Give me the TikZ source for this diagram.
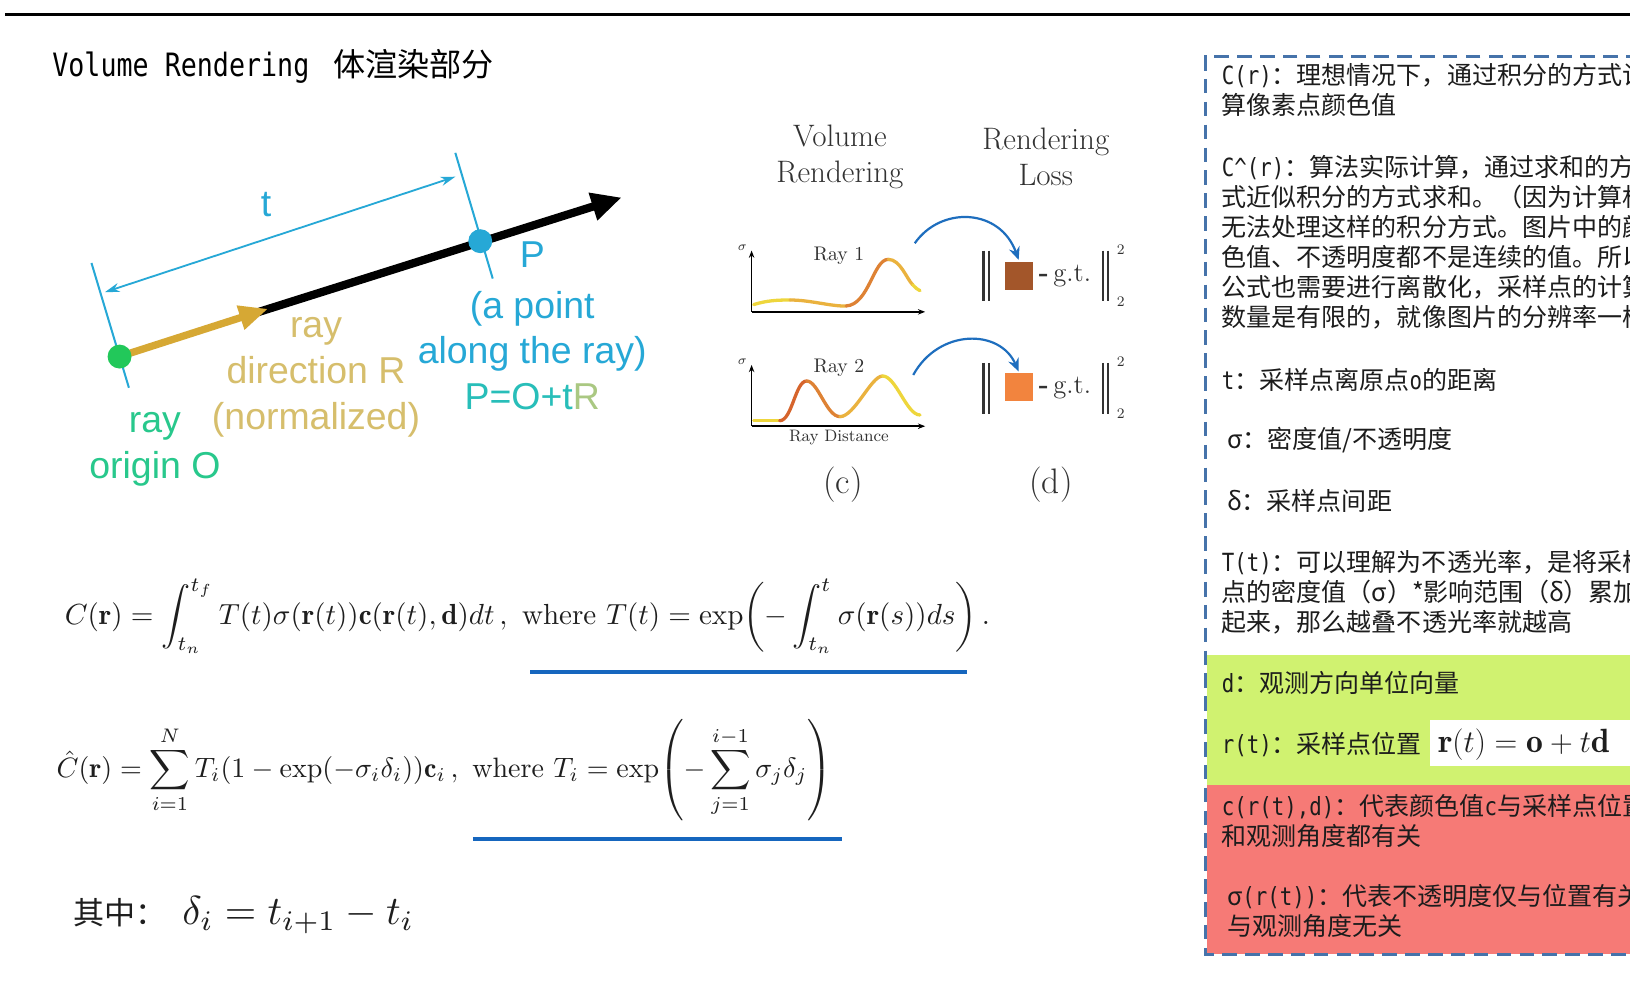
\documentclass[tikz,border=0pt]{standalone}
\usepackage{amsmath}
\usepackage{graphicx}
\usepackage{fontspec}
\newfontfamily\cjk{Noto Sans CJK SC}
\newfontfamily\arial{Liberation Sans}
\newfontfamily\latmono{DejaVu Sans Mono}
\newcommand{\hw}[1]{\scalebox{0.83}[1.0]{\latmono #1}}
\usetikzlibrary{arrows.meta}
\definecolor{RayCyan}{RGB}{38,168,214}
\definecolor{RayGreen}{RGB}{34,200,90}
\definecolor{OriginTxt}{RGB}{40,200,140}
\definecolor{RayGold}{RGB}{214,168,52}
\definecolor{GoldTxt}{RGB}{214,190,108}
\definecolor{PosTxt}{RGB}{40,190,185}
\definecolor{PosR}{RGB}{170,200,130}
\definecolor{FlowBlue}{RGB}{30,110,190}
\definecolor{LineBlue}{RGB}{22,102,190}
\definecolor{BoxBlue}{RGB}{70,115,170}
\definecolor{BandGreen}{RGB}{208,242,112}
\definecolor{BandRed}{RGB}{246,122,118}
\definecolor{SqBrown}{RGB}{163,86,42}
\definecolor{SqOrange}{RGB}{242,132,62}
\definecolor{CurveY}{RGB}{238,214,60}
\definecolor{CurveYO}{RGB}{234,178,62}
\definecolor{CurveO}{RGB}{222,130,52}
\definecolor{CurveR}{RGB}{214,100,44}
\definecolor{TxtGray}{RGB}{50,50,50}
\definecolor{NoteInk}{RGB}{28,28,28}
\definecolor{EqGray}{RGB}{30,30,30}

\begin{document}
\begin{tikzpicture}[x=0.02cm, y=-0.02cm,
    raytxt/.style={font=\arial\fontsize{20.5}{25}\selectfont, align=center, inner sep=0pt},
    note/.style={anchor=west, font=\cjk\fontsize{13.7}{16.5}\selectfont, align=left,
                 inner sep=0pt, NoteInk},
    hdr/.style={font=\fontsize{17}{19.3}\selectfont, align=center, TxtGray, inner sep=0pt},
    raylbl/.style={font=\fontsize{10.8}{12}\selectfont, TxtGray, inner sep=0pt},
    plotaxis/.style={line width=0.8pt, -{Stealth[length=4pt,width=3pt]}},
    rhocurve/.style={line width=1.8pt, line cap=round},
    flow/.style={FlowBlue, line width=1.2pt, -{Stealth[length=7pt,width=6pt]}},
    normbar/.style={line width=1.2pt, black!80},
    gtxt/.style={font=\fontsize{14.6}{16}\selectfont, TxtGray, inner sep=0pt, anchor=west},
    eqn/.style={anchor=west, inner sep=0pt, EqGray}
  ]
  \clip (0,0) rectangle (1568,945);
  \fill[white] (0,0) rectangle (1568,945);

  % Top rule and title
  \draw[line width=2pt] (5,14) -- (1568,14);
  \node[anchor=west, inner sep=0pt, font=\cjk\fontsize{17.6}{20}\selectfont] (title)
        at (50,64) {\hw{Volume Rendering}\hspace{13pt}体渲染部分};

  % Ray diagram
  \coordinate (orgO) at (115,343);
  \coordinate (ptP) at (462,232);
  \draw[RayCyan, line width=1.1pt] (88,253) -- (124,373);
  \draw[RayCyan, line width=1.1pt] (438,147) -- (474,268);
  \coordinate (dimL) at (101,281);
  \coordinate (dimR) at (438,170);
  \draw[RayCyan, line width=1pt, {Stealth[length=8pt,width=5pt]}-{Stealth[length=8pt,width=5pt]}]
        (dimL) -- (dimR);
  \node[raytxt, RayCyan] (tlbl) at (256,197) {t};
  \coordinate (dirBase) at (246,301);
  \coordinate (dirTip) at (258,297);
  \coordinate (rayTip) at (598,190);
  \draw[line width=4.5pt, -{Triangle[length=0.58cm,width=0.52cm]}] (dirBase) -- (rayTip);
  \draw[RayGold, line width=4pt, -{Triangle[length=0.56cm,width=0.45cm]}] (orgO) -- (dirTip);
  \node[circle, inner sep=0pt, minimum size=0.46cm, fill=RayGreen] (dotO) at (orgO) {};
  \node[circle, inner sep=0pt, minimum size=0.46cm, fill=RayCyan] (dotP) at (ptP) {};

  \node[raytxt, RayCyan] (plbl) at (512,245) {P};
  \node[raytxt, RayCyan] (ptxt) at (512,337)
        {(a point\\along the ray)\\\textcolor{PosTxt}{P=O+t}\textcolor{PosR}{R}};
  \node[raytxt, GoldTxt] (dirtxt) at (304,363) {ray\\direction R\\(normalized)};
  \node[raytxt, OriginTxt] (orgtxt) at (149,432) {ray\\origin O};

  % Volume rendering / loss panel
  \node[hdr] (hdrVR) at (808,151) {Volume\\Rendering};
  \node[hdr] (hdrRL) at (1006,151) {Rendering\\Loss};

  % Ray 1
  \draw[plotaxis] (723,300) -- (723,241);
  \draw[plotaxis] (723,300) -- (890,300);
  \node[font=\fontsize{7.5}{8}\selectfont, TxtGray, inner sep=0pt] (sig1) at (714,238) {$\sigma$};
  \node[raylbl] (ray1) at (807,246) {Ray 1};
  \draw[rhocurve, CurveY] (725,293) .. controls (738,289) and (748,288.6) .. (760,288.6);
  \draw[rhocurve, CurveYO] (760,288.6) .. controls (780,288.6) and (800,295) .. (814,294.3);
  \draw[rhocurve, CurveO] (814,294.3) .. controls (836,293) and (840,249.5) .. (854.5,249.5);
  \draw[rhocurve, CurveYO] (854.5,249.5) .. controls (866,249.5) and (872,268) .. (878,274);
  \draw[rhocurve, CurveY] (878,274) .. controls (881,277) and (883,279) .. (885,279.6);

  % Ray 2
  \draw[plotaxis] (723,410) -- (723,351);
  \draw[plotaxis] (723,410) -- (890,410);
  \node[font=\fontsize{7.5}{8}\selectfont, TxtGray, inner sep=0pt] (sig2) at (714,348) {$\sigma$};
  \node[raylbl] (ray2) at (807,354) {Ray 2};
  \node[font=\fontsize{9.1}{10}\selectfont, TxtGray, inner sep=0pt] (raydist) at (807,421) {Ray Distance};
  \draw[rhocurve, CurveY] (725,404.7) -- (750,404.7);
  \draw[rhocurve, CurveR] (750,404.7) .. controls (762,404.7) and (765,366.5) .. (776,366.5);
  \draw[rhocurve, CurveO] (776,366.5) .. controls (787,366.5) and (795,400.8) .. (808,400.8);
  \draw[rhocurve, CurveYO] (808,400.8) .. controls (822,400.8) and (838,361.7) .. (849,361.7);
  \draw[rhocurve, CurveY] (849,361.7) .. controls (862,361.7) and (872,399.2) .. (885,399.2);

  % Loss terms
  \node[fill=SqBrown, minimum size=0.54cm, inner sep=0pt] (sq1) at (980.5,265.5) {};
  \node[fill=SqOrange, minimum size=0.54cm, inner sep=0pt] (sq2) at (980.5,372.7) {};
  \draw[normbar] (946,241) -- (946,290);
  \draw[normbar] (951,241) -- (951,290);
  \draw[normbar] (1061,241) -- (1061,290);
  \draw[normbar] (1066,241) -- (1066,290);
  \draw[normbar] (946,349) -- (946,398);
  \draw[normbar] (951,349) -- (951,398);
  \draw[normbar] (1061,349) -- (1061,398);
  \draw[normbar] (1066,349) -- (1066,398);
  \node[gtxt] (gt1) at (999,266) {{\bfseries -}\,g.t.};
  \node[gtxt] (gt2) at (999,373) {{\bfseries -}\,g.t.};
  \node[font=\fontsize{8}{9}\selectfont, TxtGray, inner sep=0pt] (sup1) at (1078,240) {2};
  \node[font=\fontsize{8}{9}\selectfont, TxtGray, inner sep=0pt] (sub1) at (1078,290) {2};
  \node[font=\fontsize{8}{9}\selectfont, TxtGray, inner sep=0pt] (sup2) at (1078,348) {2};
  \node[font=\fontsize{8}{9}\selectfont, TxtGray, inner sep=0pt] (sub2) at (1078,398) {2};
  \coordinate (ray1out) at (880,234);
  \coordinate (ray2out) at (878.5,360.7);
  \draw[flow, shorten >=1pt] (ray1out) .. controls (905,198) and (962,200) .. (sq1.north);
  \draw[flow, shorten >=1pt] (ray2out) .. controls (903,316) and (962,316) .. (sq2.north);
  \node[font=\fontsize{19.4}{22}\selectfont, TxtGray, inner sep=0pt] (labc) at (811,466) {(c)};
  \node[font=\fontsize{19.4}{22}\selectfont, TxtGray, inner sep=0pt] (labd) at (1011,466) {(d)};

  % Equations
  \node[eqn] (eqC) at (62,593) {\resizebox{17.8cm}{!}{$\displaystyle
        C(\mathbf{r}) = \int_{t_n}^{t_f} T(t)\sigma(\mathbf{r}(t))\mathbf{c}(\mathbf{r}(t),\mathbf{d})dt\,,
        \ \text{where } T(t) = \exp\!\left(-\int_{t_n}^{t}\sigma(\mathbf{r}(s))ds\right).$}};
  \draw[LineBlue, line width=2.2pt] (510,646) -- (930,646);
  \node[eqn] (eqChat) at (54,741) {\resizebox{14.92cm}{!}{$\displaystyle
        \hat{C}(\mathbf{r}) = \sum_{i=1}^{N} T_i(1-\exp(-\sigma_i\delta_i))\mathbf{c}_i\,,
        \ \text{where } T_i = \exp\!\left(-\sum_{j=1}^{i-1}\sigma_j\delta_j\right)$}};
  \draw[LineBlue, line width=2.2pt] (455,807) -- (810,807);
  \node[eqn, font=\cjk\fontsize{17}{20}\selectfont] (qizhong) at (70,878) {其中：};
  \node[eqn] (eqDelta) at (175,880) {\resizebox{4.46cm}{!}{$\delta_i = t_{i+1} - t_i$}};

  % Notes panel
  \fill[BandGreen] (1161,630) rectangle (1570,755);
  \fill[BandRed] (1161,755) rectangle (1570,918);
  \fill[white] (1376,693) rectangle (1570,737);
  \draw[BoxBlue, line width=1.7pt, dash pattern=on 0.28cm off 0.16cm]
        (1600,54) -- (1160,54) -- (1160,918) -- (1600,918);
  \node[note] (nC) at (1175,86.5) {\hw{C(r)}：理想情况下，通过积分的方式计\\算像素点颜色值};
  \node[note] (nChat) at (1175,233) {\hw{C\textasciicircum(r)}：算法实际计算，通过求和的方\\
        式近似积分的方式求和。（因为计算机\\无法处理这样的积分方式。图片中的颜\\
        色值、不透明度都不是连续的值。所以\\公式也需要进行离散化，采样点的计算\\
        数量是有限的，就像图片的分辨率一样};
  \node[note] (nt) at (1175,365) {\hw{t}：采样点离原点\hw{o}的距离};
  \node[note] (nsig) at (1180,423) {σ：密度值/不透明度};
  \node[note] (ndel) at (1180,482) {δ：采样点间距};
  \node[note] (nT) at (1175,570) {\hw{T(t)}：可以理解为不透光率，是将采样\\
        点的密度值（σ）*影响范围（δ）累加\\起来，那么越叠不透光率就越高};
  \node[note] (nd) at (1175,657) {\hw{d}：观测方向单位向量};
  \node[note] (nr) at (1175,716) {\hw{r(t)}：采样点位置};
  \node[eqn, font=\fontsize{18.4}{20}\selectfont] (eqr) at (1383,716)
        {$\mathbf{r}(t) = \mathbf{o} + t\mathbf{d}$};
  \node[note] (nc) at (1175,789.5) {\hw{c(r(t),d)}：代表颜色值\hw{c}与采样点位置\\和观测角度都有关};
  \node[note] (nsr) at (1180,876.5) {σ\hw{(r(t))}：代表不透明度仅与位置有关\\与观测角度无关};
\end{tikzpicture}
\end{document}
